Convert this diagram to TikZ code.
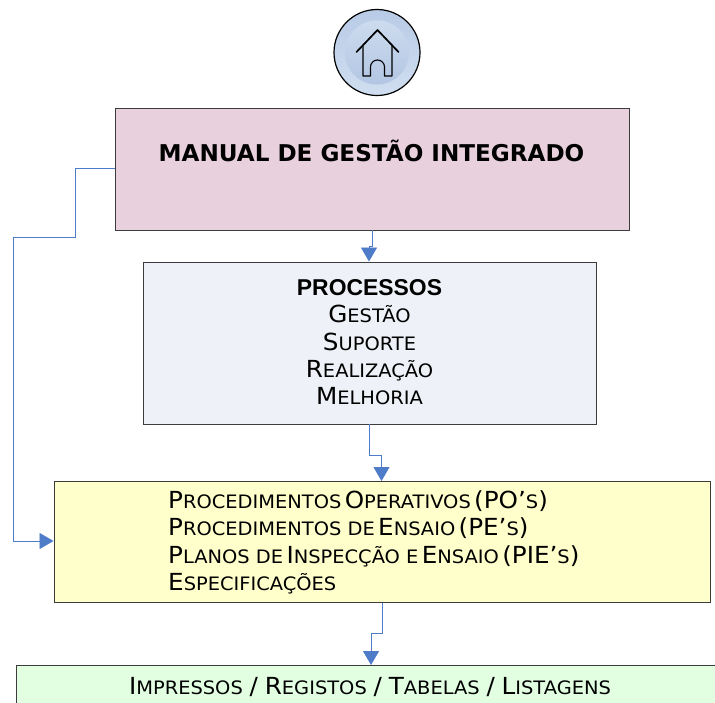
\documentclass[tikz,border=0pt]{standalone}
\usepackage{fontspec}
\setmainfont{DejaVu Sans}
\newfontfamily\headfont{Liberation Sans}
\newfontfamily\scfont[FakeStretch=1.05]{DejaVu Sans}
\usetikzlibrary{arrows.meta}
\definecolor{linkblue}{HTML}{4F7CC8}
\definecolor{framegray}{HTML}{3C3C3C}
\newcommand{\bg}[1]{{\fontsize{23.5}{26}\selectfont #1}}
\newcommand{\sm}[1]{{\fontsize{18.5}{26}\selectfont #1}}
\tikzset{
  x=1pt,y=-1pt,
  boxnode/.style={draw=framegray,line width=1pt,anchor=north west,inner sep=0pt},
  link/.style={draw=linkblue,line width=0.9pt,-{Triangle[length=14pt,width=16pt,fill=linkblue]}},
  sctext/.style={anchor=base west,inner sep=0pt,text=black,font=\scfont},
  sccenter/.style={anchor=base,inner sep=0pt,text=black,font=\scfont}
}
\begin{document}
\begin{tikzpicture}
\useasboundingbox (0,0) rectangle (715,702);
\clip (0,0) rectangle (715,702);
\fill[white] (0,0) rectangle (715,702);
% icon
\node[circle,draw=black,line width=1.2pt,minimum size=86pt,inner sep=0pt,top color={rgb,255:red,184;green,203;blue,230},bottom color={rgb,255:red,208;green,222;blue,240}] (icon) at (377,52.5) {};
\node[circle,minimum size=64pt,inner sep=0pt,top color={rgb,255:red,205;green,219;blue,238},bottom color={rgb,255:red,178;green,198;blue,227}] (iconinner) at (377,52.5) {};
\draw[black,line width=1.7pt,line cap=round,line join=round] (356.5,52) -- (377.5,30) -- (398.5,52);
\draw[black,line width=1.1pt,line join=round] (363,45.5) -- (363,76) -- (370.5,76) -- (370.5,67) arc[start angle=180,end angle=360,radius=7] -- (384.5,76) -- (392,76) -- (392,45.5);
% boxes
\node[boxnode,fill={rgb,255:red,232;green,208;blue,220},minimum width=514pt,minimum height=122pt] (manual) at (114.5,107.5) {};
\node[anchor=base,inner sep=0pt,font=\bfseries\fontsize{23.1}{26}\selectfont] (manualt) at (371.5,161) {MANUAL DE GESTÃO INTEGRADO};
\node[boxnode,fill={rgb,255:red,238;green,241;blue,247},minimum width=453pt,minimum height=162pt] (proc) at (142.5,261.5) {};
\node[anchor=base,inner sep=0pt,font=\headfont\bfseries\fontsize{22.9}{26}\selectfont] (proct) at (369.5,295) {PROCESSOS};
\node[sccenter] (p1) at (369.5,322) {\bg{G}\sm{ESTÃO}};
\node[sccenter] (p2) at (369.5,350) {\bg{S}\sm{UPORTE}};
\node[sccenter] (p3) at (369.5,377) {\bg{R}\sm{EALIZAÇÃO}};
\node[sccenter] (p4) at (369.5,404.5) {\bg{M}\sm{ELHORIA}};
\node[boxnode,fill={rgb,255:red,255;green,255;blue,204},minimum width=656pt,minimum height=121pt] (proced) at (53.5,481) {};
\node[sctext] (q1) at (168,508) {\bg{P}\sm{ROCEDIMENTOS} \bg{O}\sm{PERATIVOS} \bg{(PO’}\sm{S}\bg{)}};
\node[sctext] (q2) at (168,535) {\bg{P}\sm{ROCEDIMENTOS DE} \bg{E}\sm{NSAIO} \bg{(PE’}\sm{S}\bg{)}};
\node[sctext] (q3) at (168,563) {\bg{P}\sm{LANOS DE} \bg{I}\sm{NSPECÇÃO E} \bg{E}\sm{NSAIO} \bg{(PIE’}\sm{S}\bg{)}};
\node[sctext] (q4) at (168,590) {\bg{E}\sm{SPECIFICAÇÕES}};
\node[boxnode,fill={rgb,255:red,226;green,255;blue,226},minimum width=720pt,minimum height=60pt] (impr) at (15.5,665) {};
\node[sccenter] (r1) at (370,694) {\bg{I}\sm{MPRESSOS}\hspace{3.5pt} \bg{/} \hspace{3.5pt}\bg{R}\sm{EGISTOS}\hspace{3.5pt} \bg{/} \hspace{3.5pt}\bg{T}\sm{ABELAS}\hspace{3.5pt} \bg{/} \hspace{3.5pt}\bg{L}\sm{ISTAGENS}};
% connector anchors
\coordinate (a1) at (372,230);
\coordinate (a2) at (369,261.5);
\coordinate (b1) at (369.5,424);
\coordinate (b2) at (381.5,481);
\coordinate (c1) at (382,602.5);
\coordinate (c2) at (371,665);
\coordinate (d1) at (114.5,168);
\coordinate (d2) at (53.5,541);
\draw[link] (a1) -- (372,246) -- (369,246) -- (a2);
\draw[link] (b1) -- (369.5,455) -- (381.5,455) -- (b2);
\draw[link] (c1) -- (382,633) -- (371,633) -- (c2);
\draw[link] (d1) -- (75,168) -- (75,237) -- (13.5,237) -- (13.5,541) -- (d2);
\end{tikzpicture}
\end{document}
